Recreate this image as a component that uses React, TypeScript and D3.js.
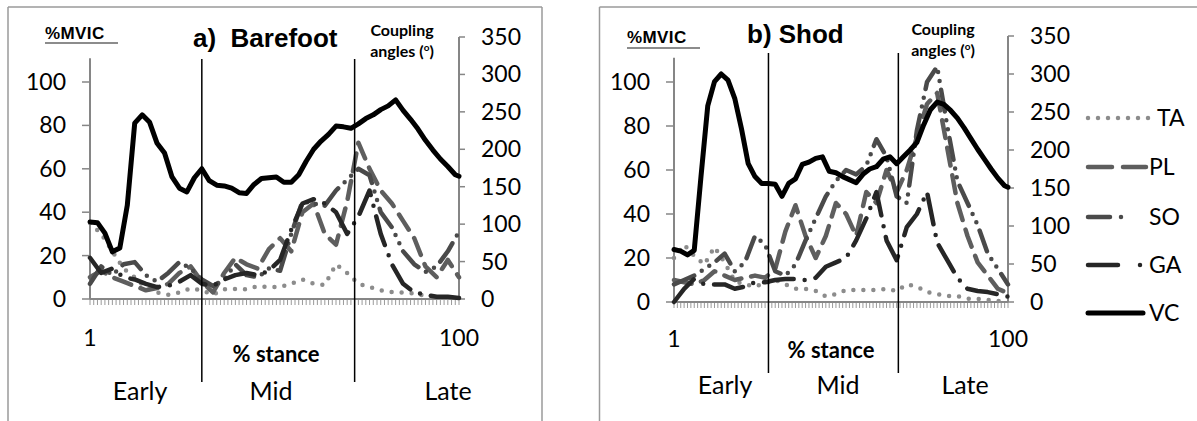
import React from 'react';
import * as d3 from 'd3';

// % stance sample points (fine grid for coupling angle, coarse for EMG)
const stanceFine = [1, 3, 5, 7, 9, 11, 13, 15, 17, 19, 21, 23, 25, 27, 29, 31, 33, 35, 37, 39, 41, 43, 45, 47, 49,
    51, 53, 55, 57, 59, 61, 63, 65, 67, 69, 71, 73, 75, 77, 79, 81, 83, 85, 87, 89, 91, 93, 95, 97, 99, 100];
const stanceCoarse = [1, 4, 7, 10, 13, 16, 19, 22, 25, 28, 31, 34, 37, 40, 43, 46, 49, 52, 55, 58, 61, 64, 67,
    70, 73, 76, 79, 82, 85, 88, 91, 94, 97, 100];

// a) Barefoot
const vcBarefoot = [103, 102, 88, 63, 68, 125, 235, 246, 236, 208, 195, 163, 148, 143, 162, 174, 158, 152, 151, 148,
    142, 141, 153, 161, 162, 163, 156, 156, 166, 184, 200, 211, 220, 231, 230, 228, 234, 241, 246, 253,
    258, 266, 252, 240, 227, 212, 199, 187, 177, 166, 164];
const taBarefoot = [35, 30, 22, 14, 10, 5, 3, 2, 3, 5, 4, 2, 4.5, 4.6, 4.5, 6, 5.5, 5.5, 7, 9, 7, 6.5, 16, 12, 7,
    5.5, 4, 3.2, 3, 2.5, 1.5, 1, 0.5, 0.5];
const plBarefoot = [10, 13, 10, 8, 6, 4, 5, 7, 12, 15, 8, 3, 12, 19, 16, 14, 23, 28, 22, 40, 44, 30, 25, 45, 72,
    60, 50, 44, 36, 28, 15, 10, 18, 10];
const soBarefoot = [7, 15, 11, 16, 17, 11, 8, 12, 17, 14, 9, 6, 9, 16, 11, 10, 14, 13, 30, 45, 44, 43, 50, 55, 60,
    57, 40, 33, 22, 16, 12.5, 15, 22, 31];
const gaBarefoot = [19, 12, 14, 10, 9, 7, 5.5, 6, 8, 11, 7, 6, 9, 11, 12, 11, 13, 18, 32, 44, 46, 44, 40, 30, 38,
    50, 30, 16, 7, 3, 2, 1, 1, 0.5];
const phaseBarefoot = [31, 72];

// b) Shod
const vcShod = [69, 67, 62, 68, 165, 258, 290, 300, 292, 268, 228, 182, 165, 156, 156, 155, 139, 156, 162, 181,
    184, 189, 191, 172, 170, 165, 161, 157, 168, 175, 178, 188, 191, 182, 191, 200, 210, 233, 253, 263,
    260, 252, 242, 229, 215, 201, 188, 175, 163, 153, 151];
const taShod = [20, 26, 21, 17, 25, 18, 9.5, 8, 7, 8.5, 10, 8, 6, 6, 5, 2.5, 3.6, 5.5, 5.5, 5.5, 5.5, 6, 5, 8, 7,
    4.5, 3.6, 2.7, 2.7, 1.5, 1.4, 1, 0.5, 0.5];
const plShod = [10, 9, 8, 10, 14, 12, 10, 11, 12, 11, 15, 32, 44, 30, 20, 30, 45, 40, 30, 50, 45, 60, 50, 60, 75,
    90, 95, 70, 45, 30, 18, 12, 6, 4];
const soShod = [8, 10, 12, 15, 18, 22, 14, 18, 30, 26, 14, 12, 17, 28, 38, 48, 55, 60, 58, 62, 74, 66, 48, 45, 78,
    100, 107, 80, 55, 45, 35, 22, 15, 8];
const gaShod = [0, 6, 10.5, 8, 8, 8, 6, 7, 9, 9, 10, 10.5, 10.5, 10, 11, 16, 18, 20, 28, 38, 50, 28, 19, 34, 40,
    50, 27, 19, 11, 6, 5, 4.5, 3.5, 2.5];
const phaseShod = [29, 67.5];

const emgTicks = [0, 20, 40, 60, 80, 100];
const angleTicks = [0, 50, 100, 150, 200, 250, 300, 350];
const phaseNames = ['Early', 'Mid', 'Late'];
const legendNames = ['TA', 'PL', 'SO', 'GA', 'VC'];

const lineStyle = {
    TA: {stroke: '#8c8c8c', width: 4.5, dash: '0 10'},
    PL: {stroke: '#5e5e5e', width: 4.5, dash: '18 10'},
    SO: {stroke: '#4a4a4a', width: 4.5, dash: '22 9 0 9 0 9'},
    GA: {stroke: '#262626', width: 4.5, dash: '30 11 0 11'},
    VC: {stroke: '#000000', width: 5, dash: undefined},
};

const AXIS = '#868686';
const NUM_FONT = 'Lato, "Open Sans", sans-serif';
const ARIAL = '"Liberation Sans", Arial, sans-serif';

const barefootGeom = {
    x0: 90, x1: 459, y0: 299, y100: 82, yA350: 37, emgTop: 111,
    phaseTop: 59, phaseBottom: 382,
    frameL: 8, frameR: 542,
    title: 'a)  Barefoot', titleX: 193, titleY: 47,
    mvicX: 45, mvicY: 39, mvicLineY: 43,
    couplingX: 402, couplingY: 36,
    xLabelY: 346, stanceX: 276, stanceY: 362,
    phaseLabelX: [140, 271, 448], phaseLabelY: 400,
};

const shodGeom = {
    x0: 674, x1: 1008, y0: 302, y100: 82, yA350: 36, emgTop: 111,
    phaseTop: 53, phaseBottom: 373,
    frameL: 599.5, frameR: null,
    title: 'b) Shod', titleX: 747, titleY: 43,
    mvicX: 627, mvicY: 43, mvicLineY: 48,
    couplingX: 943, couplingY: 35,
    xLabelY: 347, stanceX: 831, stanceY: 358,
    phaseLabelX: [725, 838, 965], phaseLabelY: 394,
};

function Panel({g, phases, emg, vc}) {
    const x = d3.scaleLinear().domain([1, 100]).range([g.x0, g.x1]);
    const yE = d3.scaleLinear().domain([0, 100]).range([g.y0, g.y100]);
    const yA = d3.scaleLinear().domain([0, 350]).range([g.y0, g.yA350]);
    const cats = d3.range(1, 101);

    const emgLine = d3.line<number>()
        .x((d, i) => x(stanceCoarse[i]))
        .y(d => yE(d));
    const vcLine = d3.line<number>()
        .x((d, i) => x(stanceFine[i]))
        .y(d => yA(d));

    return (
        <g>
            {/* frame */}
            <line x1={g.frameL} x2={g.frameR || 1197} y1={7} y2={7} stroke="#9a9a9a" strokeWidth={1.5}/>
            <line x1={g.frameL} x2={g.frameL} y1={7} y2={421} stroke="#9a9a9a" strokeWidth={1.5}/>
            {g.frameR && <line x1={g.frameR} x2={g.frameR} y1={7} y2={421} stroke="#9a9a9a" strokeWidth={1.5}/>}

            {/* category ticks */}
            {cats.map(c => (
                <line key={c} x1={x(c)} x2={x(c)} y1={g.y0} y2={g.y0 + 6} stroke="#9a9a9a" strokeWidth={1}/>
            ))}
            <line x1={g.x0} x2={g.x1} y1={g.y0} y2={g.y0} stroke={AXIS} strokeWidth={2}/>

            {/* %MVIC axis */}
            <line x1={g.x0} x2={g.x0} y1={g.y0} y2={yE(g.emgTop)} stroke={AXIS} strokeWidth={2}/>
            {emgTicks.map(t => (
                <g key={t}>
                    <line x1={g.x0 - 8} x2={g.x0} y1={yE(t)} y2={yE(t)} stroke={AXIS} strokeWidth={1.5}/>
                    <text x={g.x0 - 24} y={yE(t) + 8} textAnchor="end" fontFamily={NUM_FONT} fontSize={23}
                          fill="#000">{t}</text>
                </g>
            ))}

            {/* coupling angle axis */}
            <line x1={g.x1} x2={g.x1} y1={g.y0} y2={yA(350)} stroke={AXIS} strokeWidth={2}/>
            {angleTicks.map(t => (
                <g key={t}>
                    <line x1={g.x1} x2={g.x1 + 6} y1={yA(t)} y2={yA(t)} stroke={AXIS} strokeWidth={1.5}/>
                    <text x={g.x1 + 22} y={yA(t) + 8} fontFamily={NUM_FONT} fontSize={23} fill="#000">{t}</text>
                </g>
            ))}

            {/* EMG series */}
            {emg.map(s => {
                const st = lineStyle[s.name];
                return (
                    <path key={s.name} d={emgLine(s.values)} fill="none" stroke={st.stroke}
                          strokeWidth={st.width} strokeDasharray={st.dash}
                          strokeLinecap="round" strokeLinejoin="round"/>
                );
            })}

            {/* coupling angle */}
            <path d={vcLine(vc)} fill="none" stroke={lineStyle.VC.stroke} strokeWidth={lineStyle.VC.width}
                  strokeLinejoin="round" strokeLinecap="round"/>

            {/* phase lines */}
            {phases.map(p => (
                <line key={p} x1={x(p)} x2={x(p)} y1={g.phaseTop} y2={g.phaseBottom} stroke="#000" strokeWidth={1.5}/>
            ))}

            {/* texts */}
            <text x={g.mvicX} y={g.mvicY} fontFamily={ARIAL} fontWeight="bold" fontSize={17}
                  letterSpacing={0.4}>%MVIC</text>
            <line x1={g.mvicX} x2={g.mvicX + 73} y1={g.mvicLineY} y2={g.mvicLineY} stroke="#8c8c8c" strokeWidth={2}/>
            <text x={g.titleX} y={g.titleY} fontFamily={ARIAL} fontWeight="bold" fontSize={26}
                  style={{whiteSpace: 'pre'}}>{g.title}</text>
            <text x={g.couplingX} y={g.couplingY} textAnchor="middle" fontFamily={NUM_FONT} fontWeight="bold"
                  fontSize={16}>Coupling</text>
            <text x={g.couplingX} y={g.couplingY + 21} textAnchor="middle" fontFamily={NUM_FONT} fontWeight="bold"
                  fontSize={16}>angles (<tspan dy={-6} fontSize={10}>o</tspan><tspan dy={6}>)</tspan></text>

            <text x={x(1)} y={g.xLabelY} textAnchor="middle" fontFamily={NUM_FONT} fontSize={23}>1</text>
            <text x={x(100)} y={g.xLabelY} textAnchor="middle" fontFamily={NUM_FONT} fontSize={23}>100</text>
            <text x={g.stanceX} y={g.stanceY} textAnchor="middle" fontFamily={NUM_FONT} fontWeight="bold"
                  fontSize={22}>% stance</text>
            {phaseNames.map((n, i) => (
                <text key={n} x={g.phaseLabelX[i]} y={g.phaseLabelY} textAnchor="middle" fontFamily={NUM_FONT}
                      fontSize={25}>{n}</text>
            ))}
        </g>
    );
}

function Legend() {
    const rowY = [118, 167, 217, 265, 313];
    const ends = {TA: 1150, PL: 1146, SO: 1132, GA: 1141, VC: 1143};
    const dashes = {TA: '0 10', PL: '24 11', SO: '22 11 0 12 0 12', GA: '30 22 0 22', VC: undefined};
    return (
        <g>
            {legendNames.map((n, i) => (
                <g key={n}>
                    <line x1={1088} x2={ends[n]} y1={rowY[i]} y2={rowY[i]} stroke={lineStyle[n].stroke}
                          strokeWidth={lineStyle[n].width} strokeDasharray={dashes[n]} strokeLinecap="round"/>
                    <text x={n === 'TA' ? 1157 : 1149} y={rowY[i] + 8} fontFamily={NUM_FONT} fontSize={23}>{n}</text>
                </g>
            ))}
        </g>
    );
}

export default function App() {
    const emgBarefoot = [
        {name: 'TA', values: taBarefoot},
        {name: 'PL', values: plBarefoot},
        {name: 'SO', values: soBarefoot},
        {name: 'GA', values: gaBarefoot},
    ];
    const emgShod = [
        {name: 'TA', values: taShod},
        {name: 'PL', values: plShod},
        {name: 'SO', values: soShod},
        {name: 'GA', values: gaShod},
    ];
    return (
        <svg width={1197} height={421} style={{position: 'absolute', left: 0, top: 0, background: '#fff'}}>
            <rect width={1197} height={421} fill="#fff"/>
            <Panel g={barefootGeom} phases={phaseBarefoot} emg={emgBarefoot} vc={vcBarefoot}/>
            <Panel g={shodGeom} phases={phaseShod} emg={emgShod} vc={vcShod}/>
            <Legend/>
        </svg>
    );
}
